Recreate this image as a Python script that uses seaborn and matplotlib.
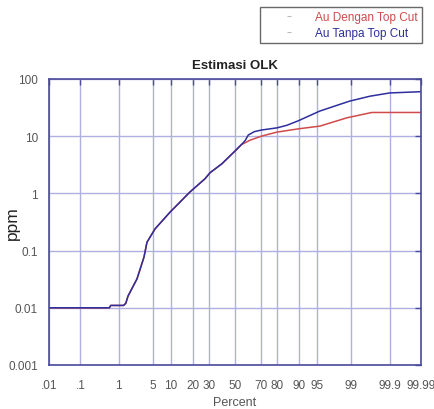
import numpy as np
import matplotlib
matplotlib.use("Agg")
import matplotlib.pyplot as plt
import seaborn as sns
from matplotlib.lines import Line2D
from statistics import NormalDist

# cumulative percent vs grade (ppm)
pct_tanpa = [0.01, 0.6, 0.65, 1.3, 1.45, 1.62, 2.5, 3.44, 3.92, 5.5, 9.7,
             18.4, 27.4, 30.9, 39.7, 50, 55, 57.9, 60.5, 65, 70, 80, 85, 89.6, 95.5,
             98.9, 99.65, 99.9, 99.99]
ppm_tanpa = [0.01, 0.01, 0.011, 0.011, 0.012, 0.016, 0.032, 0.077, 0.14, 0.24, 0.47,
             1.06, 1.8, 2.3, 3.3, 5.5, 7.1, 8.3, 10.5, 12, 12.8, 14, 15.5, 18.5, 27.5,
             41, 50, 57, 60]

pct_dengan = [0.01, 0.6, 0.65, 1.3, 1.45, 1.62, 2.5, 3.44, 3.92, 5.5, 9.7,
              18.4, 27.4, 30.9, 39.7, 50, 55, 61.8, 70, 80, 90, 95.5, 98.75, 99.69, 99.99]
ppm_dengan = [0.01, 0.01, 0.011, 0.011, 0.012, 0.016, 0.032, 0.077, 0.14, 0.24, 0.47,
              1.06, 1.8, 2.3, 3.3, 5.5, 7.1, 8.5, 10, 11.8, 13.5, 15, 21, 26, 26]

x_ticks = [0.01, 0.1, 1, 5, 10, 20, 30, 50, 70, 80, 90, 95, 99, 99.9, 99.99]
x_labels = [".01", ".1", "1", "5", "10", "20", "30", "50", "70", "80", "90", "95", "99", "99.9", "99.99"]
y_ticks = [0.001, 0.01, 0.1, 1, 10, 100]
y_labels = ["0.001", "0.01", "0.1", "1", "10", "100"]
series_names = ["Au Dengan Top Cut", "Au Tanpa Top Cut"]

RED = "#d04a4a"
BLUE = "#2e2e9c"
FRAME = "#4a4a9a"
GRID = "#b0b0e0"
TXT = "#555555"

nd = NormalDist()
_ppf = np.vectorize(lambda p: nd.inv_cdf(min(max(p / 100.0, 1e-9), 1 - 1e-9)), otypes=[float])
_cdf = np.vectorize(lambda z: nd.cdf(z) * 100.0, otypes=[float])


def forward(p):
    return _ppf(np.asarray(p, dtype=float))


def inverse(z):
    return _cdf(np.asarray(z, dtype=float))


sns.set_style("white")
plt.rcParams['font.family'] = ['Liberation Sans', 'DejaVu Sans']

fig = plt.figure(figsize=(4.35, 4.10), dpi=100)
ax = fig.add_axes([49 / 435, 1 - 366 / 410, 372 / 435, 286 / 410])

sns.lineplot(x=pct_dengan, y=ppm_dengan, ax=ax, color=RED, linewidth=1.1,
             sort=False, estimator=None)
sns.lineplot(x=pct_tanpa, y=ppm_tanpa, ax=ax, color=BLUE, linewidth=1.1,
             sort=False, estimator=None)

ax.set_xscale("function", functions=(forward, inverse))
ax.set_yscale("log")
ax.set_xlim(0.01, 99.99)
ax.set_ylim(0.001, 100)

ax.set_xticks(x_ticks)
ax.set_xticklabels(x_labels)
ax.set_yticks(y_ticks)
ax.set_yticklabels(y_labels)
ax.minorticks_off()

ax.grid(True, color=GRID, linewidth=1.0)
ax.tick_params(direction="in", length=4, width=1, color=FRAME, labelsize=8.5,
               labelcolor=TXT, top=True, right=True)
ax.tick_params(axis="x", pad=10)
ax.tick_params(axis="y", pad=8)
for s in ax.spines.values():
    s.set_color(FRAME)
    s.set_linewidth(1.2)

ax.set_title("Estimasi OLK", fontsize=9.5, fontweight="bold", pad=8, color="#222222")
ax.set_xlabel("Percent", fontsize=9, color=TXT, labelpad=4)
ax.set_ylabel("ppm", fontsize=12.5, color="#222222")
ax.yaxis.set_label_coords(-0.078, 0.5)

# legend: tiny grey dash as handle, coloured labels
handles = [Line2D([], [], linestyle="none", marker="_", markersize=3,
                  markeredgewidth=0.8, color="#bbbbbb") for _ in series_names]
leg = fig.legend(handles, series_names, loc="upper right",
                 bbox_to_anchor=(422 / 435, 1 - 8 / 410),
                 fontsize=8.5, frameon=True, fancybox=False, handlelength=4.2,
                 handletextpad=0.1, borderpad=0.35, labelspacing=0.35, borderaxespad=0)
leg.get_frame().set_edgecolor("#444444")
leg.get_frame().set_linewidth(1.0)
for txt, c in zip(leg.get_texts(), [RED, BLUE]):
    txt.set_color(c)

fig.savefig("out.png", dpi=100)
